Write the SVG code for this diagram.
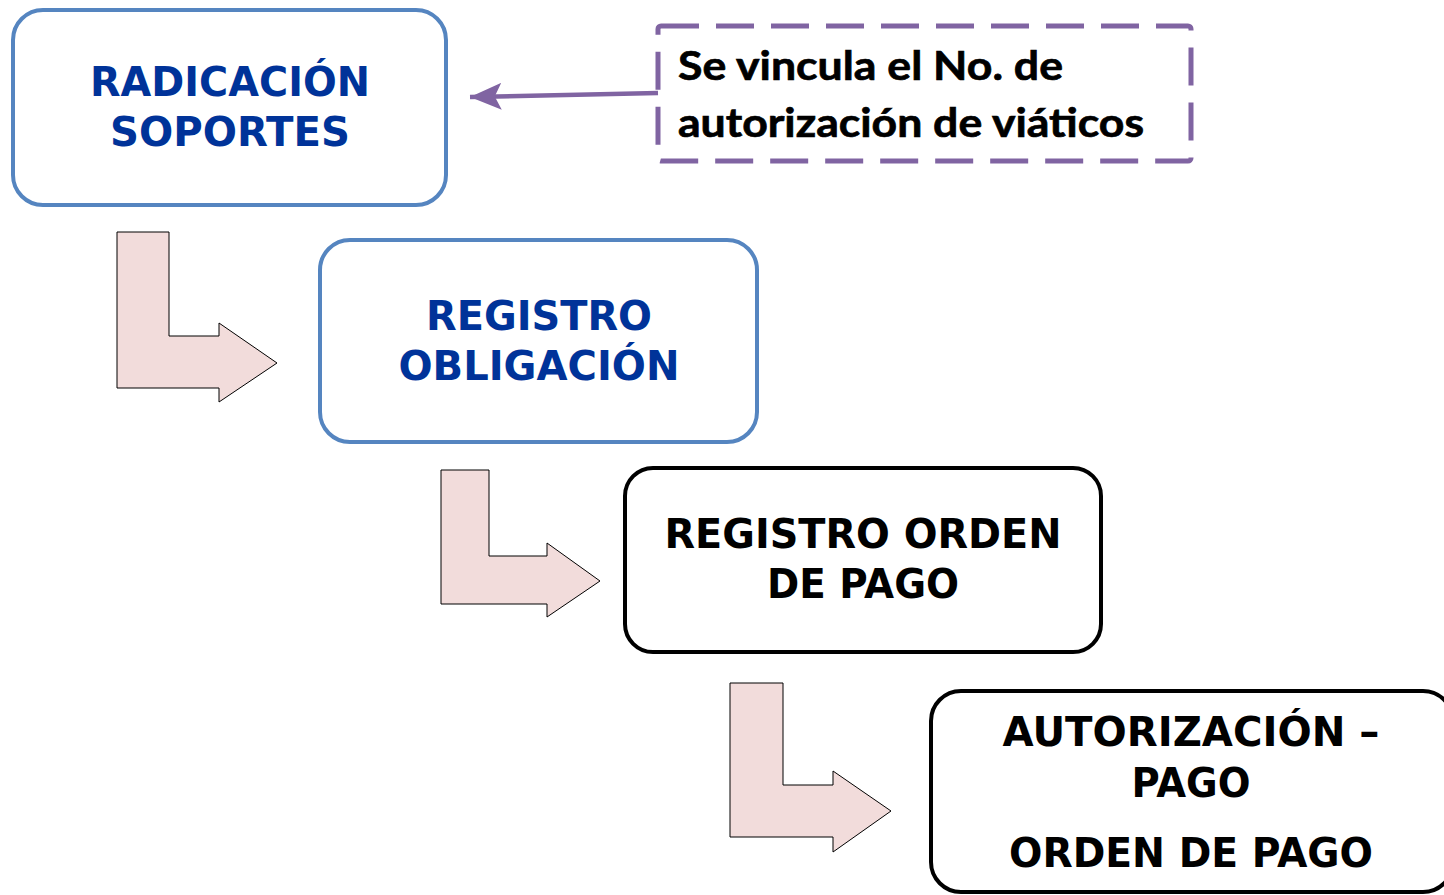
<svg xmlns="http://www.w3.org/2000/svg" width="1444" height="895" viewBox="0 0 1444 895">
<defs>
<style>
.box{fill:#fff;stroke-width:4}
.blue{stroke:#5585c0}
.black{stroke:#000}
.t{font-family:"DejaVu Sans","Liberation Sans",sans-serif;font-weight:bold;font-size:40px;text-anchor:middle}
.tb{fill:#003399}
.tk{fill:#000}
.bent{fill:#f2dcdb;stroke:#000;stroke-width:1}
.note{font-family:Lato,"Open Sans",sans-serif;font-weight:bold;font-size:41px;fill:#000;stroke:#000;stroke-width:0.7}
</style>
<marker id="ah" markerWidth="8" markerHeight="6" refX="7" refY="3" orient="auto" markerUnits="strokeWidth">
<path d="M0,0 L7,3 L0,6 L1.5,3 Z" fill="#8064a2"/>
</marker>
</defs>
<rect width="1444" height="895" fill="#fff"/>

<g id="connectors">
<path d="M658,93 L470,97" fill="none" stroke="#8064a2" stroke-width="4.5" marker-end="url(#ah)"/>
</g>

<g id="bent1">
<path class="bent" d="M117,232 L169,232 L169,336 L219,336 L219,323 L277,363 L219,402 L219,388 L117,388 Z"/>
</g>
<g id="bent2">
<path class="bent" d="M441,470 L489,470 L489,556 L547,556 L547,543 L600,581 L547,617 L547,604 L441,604 Z"/>
</g>
<g id="bent3">
<path class="bent" d="M730,683 L783,683 L783,785 L833,785 L833,771 L891,811 L833,852 L833,837 L730,837 Z"/>
</g>

<g id="radicacion">
<rect class="box blue" x="13" y="10" width="433" height="195" rx="30"/>
<text class="t tb" x="230" y="96" textLength="280" lengthAdjust="spacingAndGlyphs">RADICACIÓN</text>
<text class="t tb" x="230" y="146" textLength="240" lengthAdjust="spacingAndGlyphs">SOPORTES</text>
</g>

<g id="nota">
<rect x="658" y="26" width="533" height="135" rx="3" fill="none" stroke="#8064a2" stroke-width="5" stroke-dasharray="38 17"/>
<text class="note" x="678" y="80" textLength="385" lengthAdjust="spacingAndGlyphs">Se vincula el No. de</text>
<text class="note" x="678" y="137" textLength="466" lengthAdjust="spacingAndGlyphs">autorización de viáticos</text>
</g>

<g id="registro-obligacion">
<rect class="box blue" x="320" y="240" width="437" height="202" rx="30"/>
<text class="t tb" x="539" y="330" textLength="226" lengthAdjust="spacingAndGlyphs">REGISTRO</text>
<text class="t tb" x="539" y="380" textLength="281" lengthAdjust="spacingAndGlyphs">OBLIGACIÓN</text>
</g>

<g id="registro-orden">
<rect class="box black" x="625" y="468" width="476" height="184" rx="28"/>
<text class="t tk" x="863" y="548" textLength="397" lengthAdjust="spacingAndGlyphs">REGISTRO ORDEN</text>
<text class="t tk" x="863" y="598" textLength="192" lengthAdjust="spacingAndGlyphs">DE PAGO</text>
</g>

<g id="autorizacion">
<rect class="box black" x="931" y="691" width="522" height="201" rx="30"/>
<text class="t tk" x="1191" y="746" textLength="377" lengthAdjust="spacingAndGlyphs">AUTORIZACIÓN –</text>
<text class="t tk" x="1191" y="797" textLength="119" lengthAdjust="spacingAndGlyphs">PAGO</text>
<text class="t tk" x="1191" y="867" textLength="364" lengthAdjust="spacingAndGlyphs">ORDEN DE PAGO</text>
</g>
</svg>
